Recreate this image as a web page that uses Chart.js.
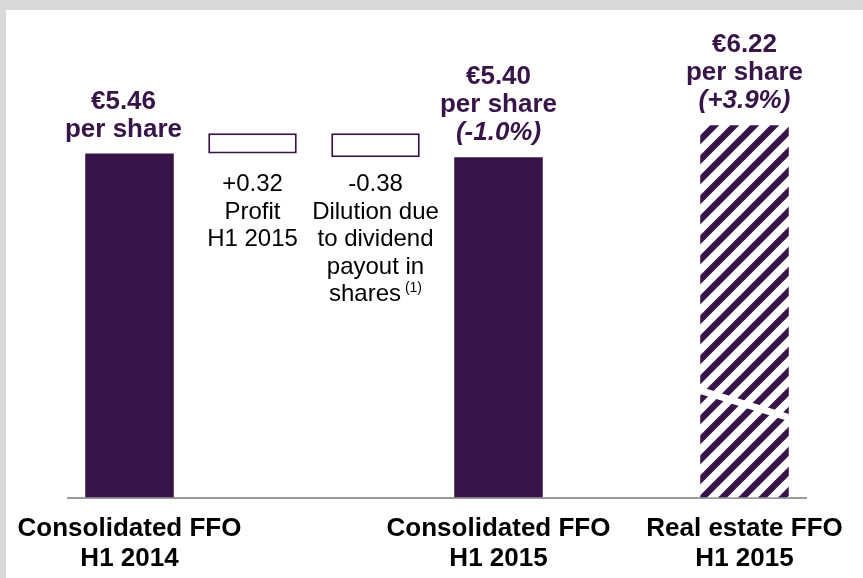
<!DOCTYPE html>
<html>
<head>
<meta charset="utf-8">
<script src="https://cdn.jsdelivr.net/npm/chart.js@4"></script>
<style>
  html, body { margin: 0; padding: 0; background: #d9d9d9; }
  #panel { position: absolute; left: 6px; top: 10px; right: 0; bottom: 0; background: #fff; }
  #wrap { position: absolute; left: 0; top: 0; width: 863px; height: 578px; }
</style>
</head>
<body>
<div id="panel"></div>
<div id="wrap"><canvas id="ffoChart" width="863" height="578"></canvas></div>
<script>
// categories (empty slots for the two bridge steps and the gap)
const categories = [["Consolidated FFO", "H1 2014"], "", "", ["Consolidated FFO", "H1 2015"], "", ["Real estate FFO", "H1 2015"]];
// floating bars: from / to (€ per share)
const barFrom = [0, 5.46, 5.40, 0, null, 0];
const barTo   = [5.46, 5.78, 5.78, 5.40, null, 5.91]; // last bar is cut by an axis break (real value 6.22)
const valueLabels = [["€5.46", "per share"], null, null, ["€5.40", "per share", "(-1.0%)"], null, ["€6.22", "per share", "(+3.9%)"]];
const stepLabels = [null, ["+0.32", "Profit", "H1 2015"], ["-0.38", "Dilution due", "to dividend", "payout in", "shares"], null, null, null];
const breakValues = [1.72, 1.25]; // axis break across the real estate bar

const purple = '#371549';
const FONT = '"Liberation Sans", Arial, sans-serif';

function hatchPattern() {
    const s = 20;
    const c = document.createElement('canvas');
    c.width = s; c.height = s;
    const g = c.getContext('2d');
    g.fillStyle = '#fff';
    g.fillRect(0, 0, s, s);
    g.strokeStyle = purple;
    g.lineWidth = 6.5;
    g.lineCap = 'square';
    [-s, 0, s].forEach(k => {
        g.beginPath();
        g.moveTo(k - 5, s + 5);
        g.lineTo(k + s + 5, -5);
        g.stroke();
    });
    return g.createPattern(c, 'repeat');
}

const labelsPlugin = {
    id: 'labelsPlugin',
    afterDatasetsDraw(chart) {
        const ctx = chart.ctx;
        const meta = chart.getDatasetMeta(0);
        const yScale = chart.scales.y;
        ctx.save();
        ctx.textAlign = 'center';
        ctx.textBaseline = 'middle';

        // axis break on the last bar
        const last = meta.data[5];
        const half = last.width / 2;
        ctx.save();
        ctx.beginPath();
        ctx.rect(last.x - half, yScale.top, last.width, yScale.bottom - yScale.top);
        ctx.clip();
        ctx.strokeStyle = '#fff';
        ctx.lineWidth = 7;
        ctx.beginPath();
        ctx.moveTo(last.x - half - 4, yScale.getPixelForValue(breakValues[0]));
        ctx.lineTo(last.x + half + 4, yScale.getPixelForValue(breakValues[1]));
        ctx.stroke();
        ctx.restore();

        // value labels above bars
        valueLabels.forEach((lines, i) => {
            if (!lines) return;
            const el = meta.data[i];
            const top = Math.min(el.y, el.base);
            const x = i === 0 ? el.x - 6 : el.x;
            ctx.fillStyle = purple;
            lines.forEach((t, j) => {
                const italic = j === 2 ? 'italic ' : '';
                ctx.font = italic + 'bold 26px ' + FONT;
                ctx.fillText(t, x, top - 24 - (lines.length - 1 - j) * 28);
            });
        });

        // bridge step labels below the boxes
        const stepTop = yScale.getPixelForValue(barFrom[1]) + 31;
        stepLabels.forEach((lines, i) => {
            if (!lines) return;
            const el = meta.data[i];
            ctx.fillStyle = '#000';
            ctx.font = '24px ' + FONT;
            lines.forEach((t, j) => {
                const y = stepTop + j * 27.5;
                if (t === 'shares') {
                    const w = ctx.measureText(t).width;
                    ctx.font = '14px ' + FONT;
                    const w2 = ctx.measureText(' (1)').width;
                    ctx.font = '24px ' + FONT;
                    const x0 = el.x - (w + w2) / 2;
                    ctx.textAlign = 'left';
                    ctx.fillText(t, x0, y);
                    ctx.font = '14px ' + FONT;
                    ctx.fillText(' (1)', x0 + w, y - 6);
                    ctx.font = '24px ' + FONT;
                    ctx.textAlign = 'center';
                } else {
                    ctx.fillText(t, el.x, y);
                }
            });
        });
        ctx.restore();
    }
};

const pattern = hatchPattern();

new Chart(document.getElementById('ffoChart'), {
    type: 'bar',
    data: {
        labels: categories,
        datasets: [{
            data: barFrom.map((v, i) => v === null ? null : [v, barTo[i]]),
            backgroundColor: ['#371549', '#fff', '#fff', '#371549', '#fff', pattern],
            borderColor: purple,
            borderWidth: [0, 2, 2, 0, 0, 0],
            borderSkipped: false,
            barPercentage: 0.72,
            categoryPercentage: 1
        }]
    },
    options: {
        responsive: false,
        animation: false,
        layout: { padding: { left: 68, right: 57, top: 56.5, bottom: 0 } },
        plugins: { legend: { display: false }, tooltip: { enabled: false } },
        scales: {
            y: { display: false, min: 0, max: 7 },
            x: {
                grid: { display: false },
                border: { display: true, color: '#9a9a9a', width: 2 },
                ticks: {
                    color: '#000',
                    font: { family: FONT, size: 26, weight: 'bold', lineHeight: 1.15 },
                    maxRotation: 0, minRotation: 0, autoSkip: false,
                    padding: 8
                },
                afterFit(scale) { scale.height = 80.5; }
            }
        }
    },
    plugins: [labelsPlugin]
});
</script>
</body>
</html>
